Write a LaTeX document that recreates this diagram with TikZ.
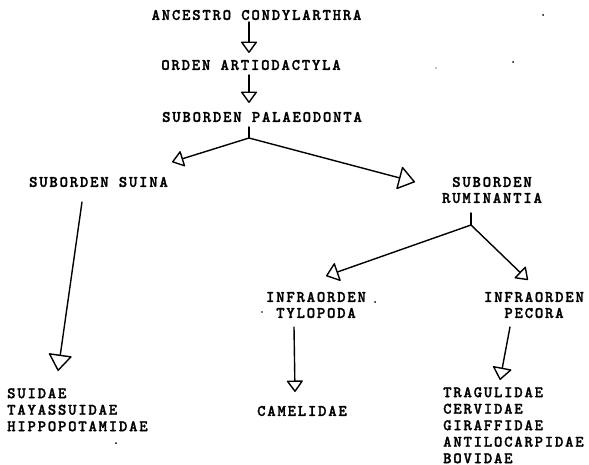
\documentclass[tikz,border=0pt]{standalone}
\usepackage{fontspec}
\newfontfamily\twfont{lmmonolt10-bold}[Extension=.otf, LetterSpace=11, FakeBold=1.5]
\usetikzlibrary{arrows.meta}
\begin{document}
\begin{tikzpicture}[x=1pt,y=-1pt,
  lbl/.style={font=\twfont\fontsize{16}{16}\selectfont, inner sep=0pt, align=center},
  lst/.style={font=\twfont\fontsize{16}{16.5}\selectfont, inner sep=0pt, align=left},
  conn/.style={line width=1.4pt, line cap=round, line join=round},
  arrS/.style={conn, -{Triangle[open, round, length=12pt, width=17pt]}},
  arrM/.style={conn, -{Triangle[open, round, length=13pt, width=20pt]}},
  arrL/.style={conn, -{Triangle[open, round, length=17pt, width=24pt]}},
  speck/.style={fill=black}
]
\fill[white] (0,0) rectangle (589,465);
\useasboundingbox (0,0) rectangle (589,465);

% labels
\node[lbl] (anc) at (256.5,15) {ANCESTRO CONDYLARTHRA};
\node[lbl] (ord) at (251,65) {ORDEN ARTIODACTYLA};
\node[lbl] (pal) at (262,117) {SUBORDEN PALAEODONTA};
\node[lbl] (sui) at (98.5,182) {SUBORDEN SUINA};
\node[lbl] (rum) at (492,190) {SUBORDEN\\RUMINANTIA};
\node[lbl] (tyl) at (316,305) {INFRAORDEN\\TYLOPODA};
\node[lbl] (pec) at (534,305) {INFRAORDEN\\PECORA};
\node[lst, anchor=north west] (suf) at (7,388) {SUIDAE\\TAYASSUIDAE\\HIPPOPOTAMIDAE};
\node[lbl] (cam) at (302,411) {CAMELIDAE};
\node[lst, anchor=north west] (pef) at (443,387) {TRAGULIDAE\\CERVIDAE\\GIRAFFIDAE\\ANTILOCARPIDAE\\BOVIDAE};

% junctions
\coordinate (j1) at ([shift={(-13,21)}]pal.center);
\coordinate (j2) at ([shift={(-21,35)}]rum.center);

% connectors
\draw[arrS] ([shift={(-7.5,7)}]anc.center) -- ([shift={(-2,-12)}]ord.center);
\draw[arrS] ([shift={(-2,10)}]ord.center) -- ([shift={(-13,-14)}]pal.center);
\draw[conn] ([shift={(-13,10)}]pal.center) -- (j1);
\draw[arrS] (j1) -- ([shift={(73.5,-20)}]sui.center);
\draw[arrL] (j1) -- ([shift={(-77,-8)}]rum.center);
\draw[conn] ([shift={(-21,23)}]rum.center) -- (j2);
\draw[arrM] (j2) -- ([shift={(10,-29)}]tyl.center);
\draw[arrS] (j2) -- ([shift={(-6,-25)}]pec.center);
\draw[arrL] ([shift={(-16.5,20)}]sui.center) -- ([shift={(51,-17)}]suf.north west);
\draw[arrS] ([shift={(-22,22)}]tyl.center) -- ([shift={(-7,-19)}]cam.center);
\draw[arrM] ([shift={(-24,22)}]pec.center) -- ([shift={(57,-7)}]pef.north west);

% scan specks
\fill[speck] (543,15) circle (1pt);
\fill[speck] (513,62) circle (1pt);
\fill[speck] (436,68) circle (0.7pt);
\fill[speck] (375,302) circle (1pt);
\fill[speck] (262,312) circle (0.8pt);
\fill[speck] (116,443) circle (1pt);
\end{tikzpicture}
\end{document}
